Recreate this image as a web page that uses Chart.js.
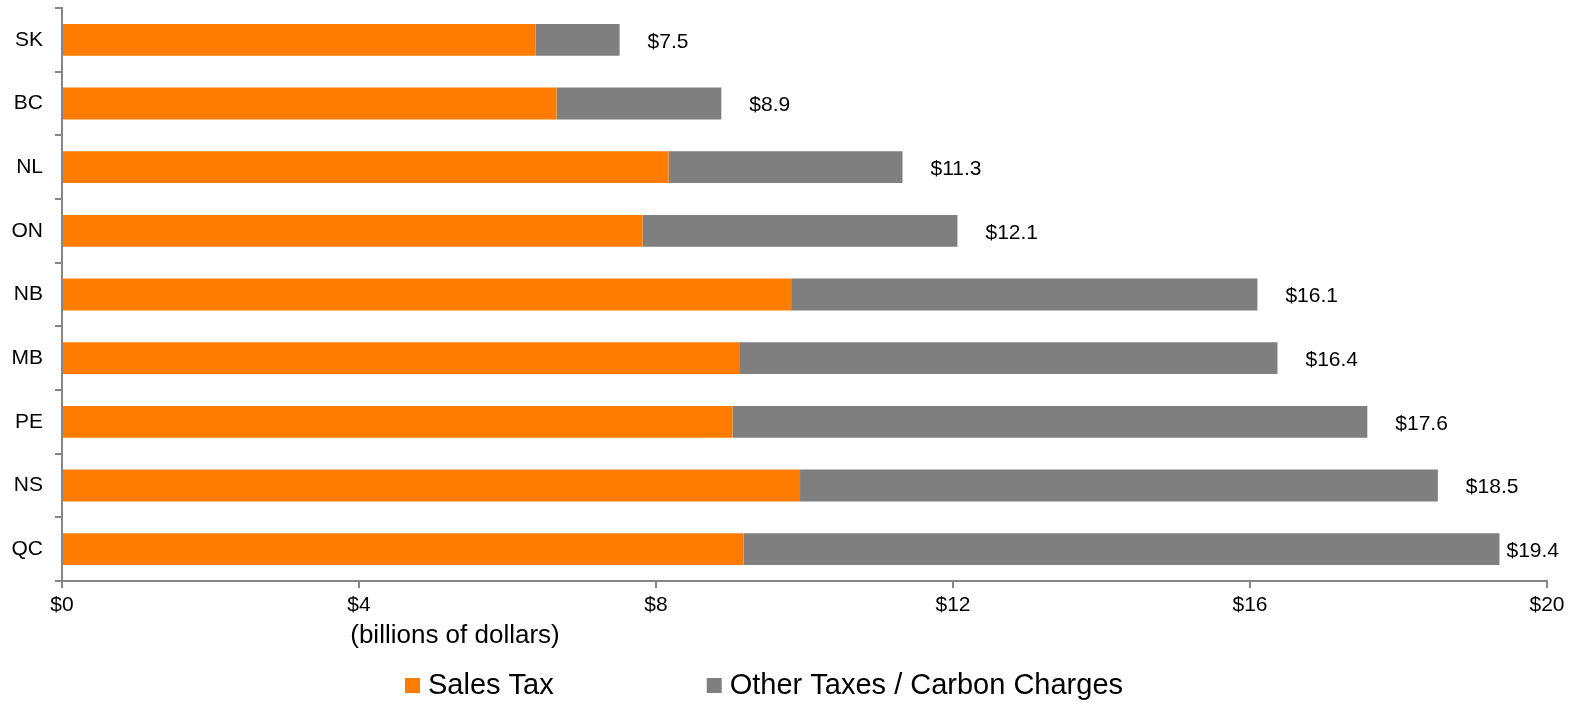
<!DOCTYPE html>
<html>
<head>
<meta charset="utf-8">
<script src="https://cdn.jsdelivr.net/npm/chart.js@4.4.1/dist/chart.umd.min.js"></script>
<style>
  html, body { margin: 0; padding: 0; background: #fff; }
  #wrap { width: 1575px; height: 702px; position: relative; }
</style>
</head>
<body>
<div id="wrap"><canvas id="plots"></canvas></div>
<script>
// provinces, top to bottom
var provinces = ["SK", "BC", "NL", "ON", "NB", "MB", "PE", "NS", "QC"];
// billions of dollars
var salesTax = [6.38, 6.66, 8.17, 7.82, 9.82, 9.12, 9.03, 9.94, 9.18];
var otherTaxes = [1.13, 2.22, 3.15, 4.24, 6.28, 7.25, 8.55, 8.59, 10.18];
// totals printed next to each bar
var totals = [7.5, 8.9, 11.3, 12.1, 16.1, 16.4, 17.6, 18.5, 19.4];
var xTicks = [0, 4, 8, 12, 16, 20];

var FONT = '"Liberation Sans", Arial, sans-serif';
var AXIS = '#868686';

// $ labels at the end of each stacked bar
var totalLabels = {
    id: 'totalLabels',
    afterDatasetsDraw: function (chart) {
        var ctx = chart.ctx;
        var meta = chart.getDatasetMeta(1);
        ctx.save();
        ctx.font = '21px ' + FONT;
        ctx.fillStyle = '#000';
        ctx.textAlign = 'left';
        ctx.textBaseline = 'middle';
        meta.data.forEach(function (bar, i) {
            var txt = '$' + totals[i].toFixed(1);
            // keep the last label inside the canvas
            var x = Math.min(bar.x + 28, chart.width - ctx.measureText(txt).width - 16);
            ctx.fillText(txt, x, bar.y + 2);
        });
        ctx.restore();
    }
};

// unit note under the axis and the legend row
var notes = {
    id: 'notes',
    afterDraw: function (chart) {
        var ctx = chart.ctx;
        ctx.save();
        ctx.fillStyle = '#000';
        ctx.textBaseline = 'middle';
        ctx.textAlign = 'center';
        ctx.font = '26px ' + FONT;
        ctx.fillText('(billions of dollars)', 455, 636);

        ctx.textAlign = 'left';
        ctx.font = '29px ' + FONT;
        var x = 405;
        chart.data.datasets.forEach(function (ds) {
            ctx.fillStyle = ds.backgroundColor;
            ctx.fillRect(x, 678, 15, 15);
            ctx.fillStyle = '#000';
            ctx.fillText(ds.label, x + 23, 686);
            x += 23 + ctx.measureText(ds.label).width + 153;
        });
        ctx.restore();
    }
};

new Chart(document.getElementById('plots'), {
    type: 'bar',
    data: {
        labels: provinces,
        datasets: [{
            label: 'Sales Tax',
            data: salesTax,
            backgroundColor: '#FF7C00',
            borderWidth: 0,
            barPercentage: 0.5,
            categoryPercentage: 1
        }, {
            label: 'Other Taxes / Carbon Charges',
            data: otherTaxes,
            backgroundColor: '#7F7F7F',
            borderWidth: 0,
            barPercentage: 0.5,
            categoryPercentage: 1
        }]
    },
    options: {
        indexAxis: 'y',
        responsive: true,
        maintainAspectRatio: false,
        animation: false,
        layout: { padding: { top: 8, right: 28, left: 0, bottom: 0 } },
        plugins: {
            legend: { display: false },
            tooltip: { enabled: false }
        },
        scales: {
            x: {
                stacked: true,
                min: 0,
                max: 20,
                afterBuildTicks: function (s) {
                    s.ticks = xTicks.map(function (v) { return { value: v }; });
                },
                ticks: {
                    color: '#000',
                    font: { size: 21, family: FONT },
                    padding: 5,
                    callback: function (v) { return '$' + v; }
                },
                grid: { drawOnChartArea: false, tickLength: 7, color: AXIS, lineWidth: 2 },
                border: { color: AXIS, width: 2 },
                afterFit: function (s) { s.height = 121; }
            },
            y: {
                stacked: true,
                ticks: {
                    color: '#000',
                    font: { size: 21, family: FONT },
                    padding: 12
                },
                grid: { drawOnChartArea: false, tickLength: 7, color: AXIS, lineWidth: 2, offset: true },
                border: { color: AXIS, width: 2 },
                afterFit: function (s) {
                    s.width = 62;
                    s.paddingTop = 0;
                    s.paddingBottom = 0;
                }
            }
        }
    },
    plugins: [totalLabels, notes]
});
</script>
</body>
</html>
